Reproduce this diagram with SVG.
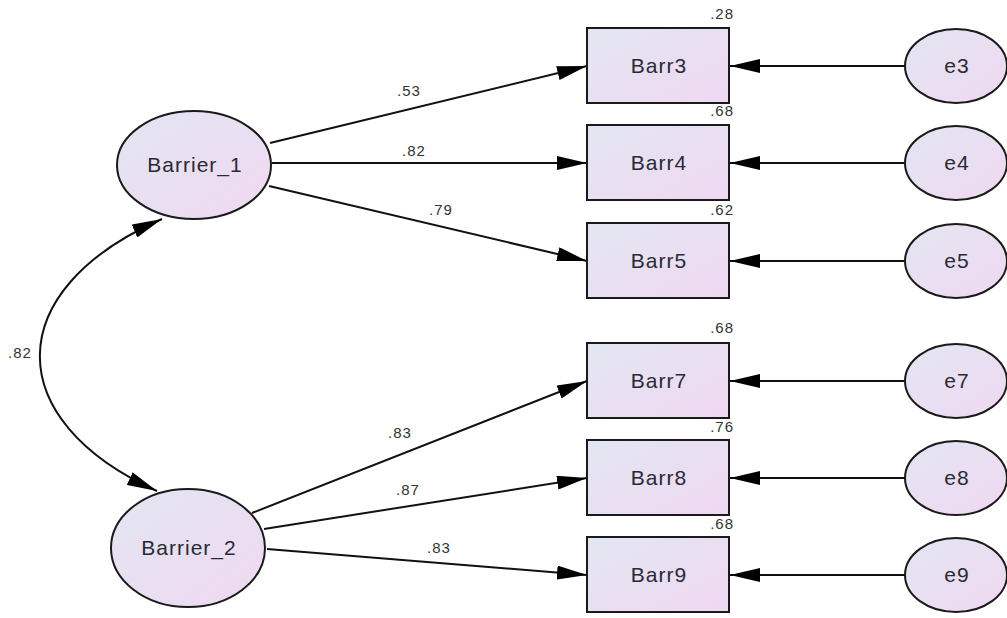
<svg xmlns="http://www.w3.org/2000/svg" width="1007" height="618" viewBox="0 0 1007 618">
<style>
.n{stroke:#1a1a1a;stroke-width:2;fill:url(#g)}
.t{font-family:"Liberation Sans",Arial,sans-serif;font-size:21px;letter-spacing:1px;fill:#2a2a35;text-anchor:middle}
.v{font-family:"Liberation Sans",Arial,sans-serif;font-size:15px;letter-spacing:1px;fill:#333}
.c{stroke:#111;stroke-width:2;fill:none}
</style>
<defs>
<linearGradient id="g" x1="0" y1="0" x2="1" y2="1">
<stop offset="0" stop-color="#e2e6f1"/>
<stop offset="1" stop-color="#f0d8f2"/>
</linearGradient>
<marker id="a" markerUnits="userSpaceOnUse" markerWidth="30" markerHeight="14" refX="30" refY="7" orient="auto">
<path d="M0,0 L30,7 L0,14 Z" fill="#000"/>
</marker>
<marker id="s" markerUnits="userSpaceOnUse" markerWidth="30" markerHeight="14" refX="0" refY="7" orient="auto">
<path d="M30,0 L0,7 L30,14 Z" fill="#000"/>
</marker>
</defs>
<g id="connectors">
<line class="c" x1="270" y1="143" x2="587" y2="66" marker-end="url(#a)"/>
<line class="c" x1="272" y1="163" x2="587" y2="163" marker-end="url(#a)"/>
<line class="c" x1="269" y1="186" x2="587" y2="261" marker-end="url(#a)"/>
<line class="c" x1="252" y1="513" x2="587" y2="381" marker-end="url(#a)"/>
<line class="c" x1="264" y1="529" x2="587" y2="478" marker-end="url(#a)"/>
<line class="c" x1="267" y1="549" x2="587" y2="575" marker-end="url(#a)"/>
<line class="c" x1="905" y1="66" x2="730" y2="66" marker-end="url(#a)"/>
<line class="c" x1="905" y1="163" x2="730" y2="163" marker-end="url(#a)"/>
<line class="c" x1="905" y1="261" x2="730" y2="261" marker-end="url(#a)"/>
<line class="c" x1="905" y1="381" x2="730" y2="381" marker-end="url(#a)"/>
<line class="c" x1="905" y1="478" x2="730" y2="478" marker-end="url(#a)"/>
<line class="c" x1="905" y1="575" x2="730" y2="575" marker-end="url(#a)"/>
<path class="c" d="M162,219 C0,290 0,420 157,491" marker-start="url(#s)" marker-end="url(#a)"/>
<text class="v" x="397" y="96">.53</text>
<text class="v" x="402" y="156">.82</text>
<text class="v" x="429" y="215">.79</text>
<text class="v" x="388" y="438">.83</text>
<text class="v" x="396" y="495">.87</text>
<text class="v" x="427" y="553">.83</text>
<text class="v" x="8" y="358">.82</text>
</g>
<g id="Barrier_1"><ellipse class="n" cx="194" cy="165" rx="77" ry="54"/><text class="t" x="195" y="172">Barrier_1</text></g>
<g id="Barrier_2"><ellipse class="n" cx="188" cy="548" rx="77" ry="59"/><text class="t" x="189" y="555">Barrier_2</text></g>
<g id="Barr3"><rect class="n" x="587" y="28" width="142" height="75"/><text class="t" x="659" y="73">Barr3</text><text class="v" x="734" y="19" text-anchor="end">.28</text></g>
<g id="Barr4"><rect class="n" x="587" y="125" width="142" height="75"/><text class="t" x="659" y="170">Barr4</text><text class="v" x="734" y="116" text-anchor="end">.68</text></g>
<g id="Barr5"><rect class="n" x="587" y="223" width="142" height="75"/><text class="t" x="659" y="268">Barr5</text><text class="v" x="734" y="215" text-anchor="end">.62</text></g>
<g id="Barr7"><rect class="n" x="587" y="343" width="142" height="75"/><text class="t" x="659" y="388">Barr7</text><text class="v" x="734" y="333" text-anchor="end">.68</text></g>
<g id="Barr8"><rect class="n" x="587" y="440" width="142" height="75"/><text class="t" x="659" y="485">Barr8</text><text class="v" x="734" y="432" text-anchor="end">.76</text></g>
<g id="Barr9"><rect class="n" x="587" y="537" width="142" height="75"/><text class="t" x="659" y="582">Barr9</text><text class="v" x="734" y="529" text-anchor="end">.68</text></g>
<g id="e3"><ellipse class="n" cx="956" cy="66" rx="51" ry="37"/><text class="t" x="957" y="73">e3</text></g>
<g id="e4"><ellipse class="n" cx="956" cy="163" rx="51" ry="37"/><text class="t" x="957" y="170">e4</text></g>
<g id="e5"><ellipse class="n" cx="956" cy="261" rx="51" ry="37"/><text class="t" x="957" y="268">e5</text></g>
<g id="e7"><ellipse class="n" cx="956" cy="381" rx="51" ry="37"/><text class="t" x="957" y="388">e7</text></g>
<g id="e8"><ellipse class="n" cx="956" cy="478" rx="51" ry="37"/><text class="t" x="957" y="485">e8</text></g>
<g id="e9"><ellipse class="n" cx="956" cy="575" rx="51" ry="37"/><text class="t" x="957" y="582">e9</text></g>
</svg>
